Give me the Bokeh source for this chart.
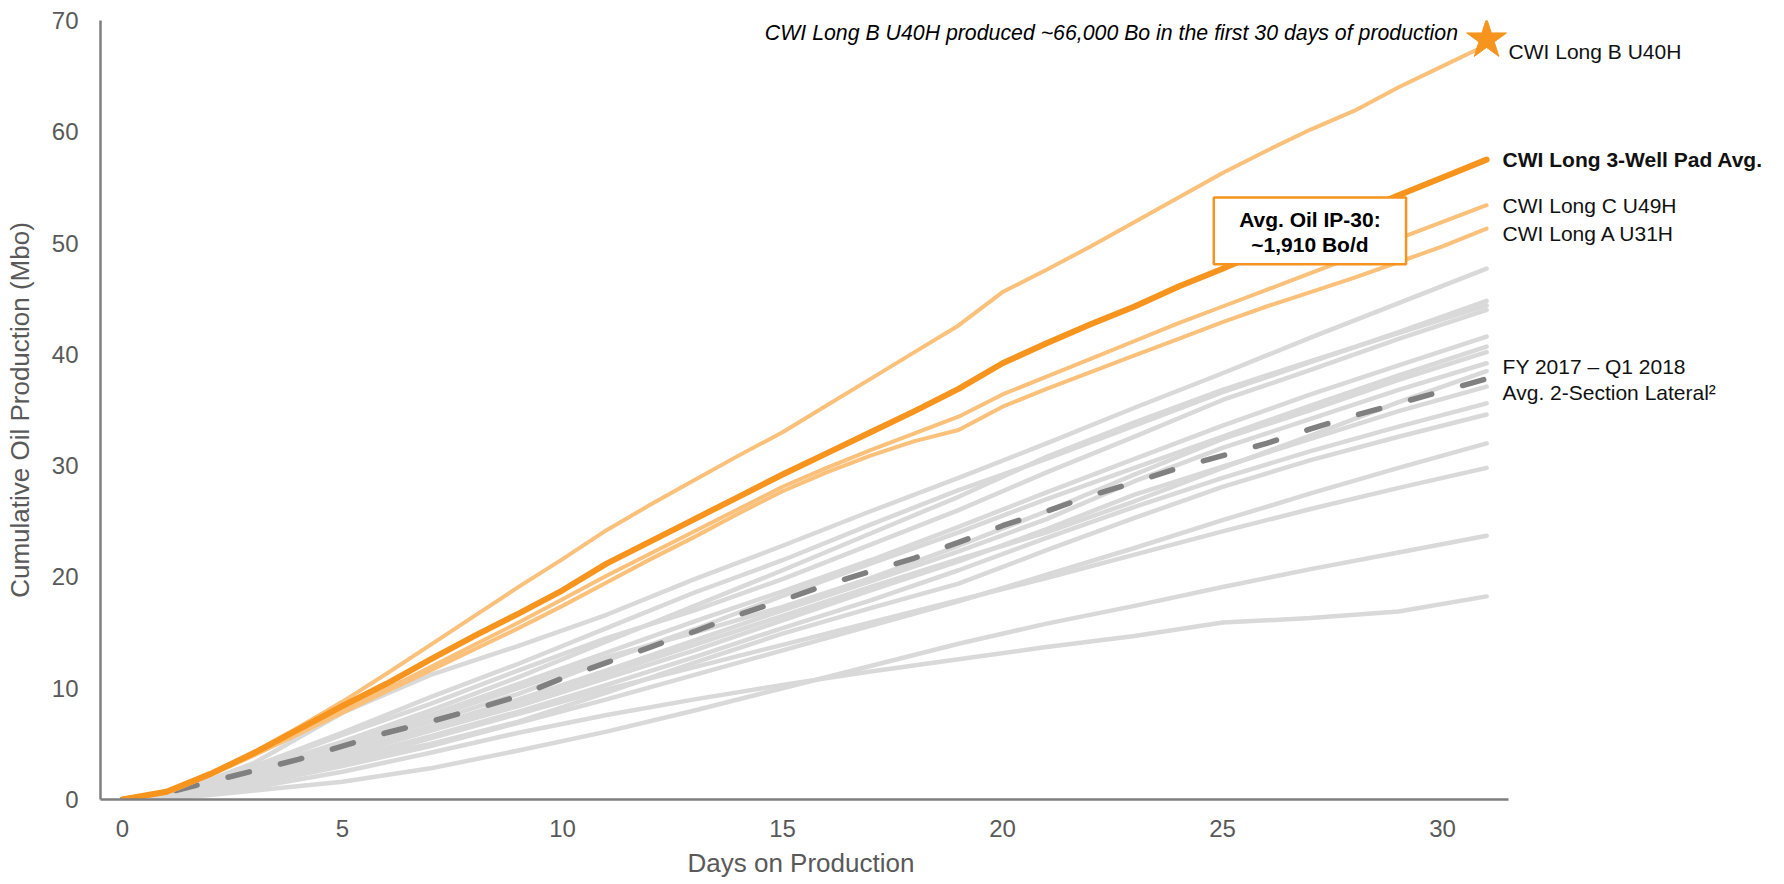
from bokeh.plotting import figure
from bokeh.models import Label, Range1d, Title
from bokeh.embed import file_html
from bokeh.resources import INLINE

# ---------------- data ----------------
days = list(range(32))

pad_avg = [0, 0.7, 2.3, 4.2, 6.3, 8.4, 10.4, 12.6, 14.7, 16.7, 18.8, 21.2, 23.2, 25.2, 27.2, 29.2,
           31.1, 33.0, 34.9, 36.9, 39.2, 41.0, 42.7, 44.3, 46.1, 47.7, 49.4, 51.0, 52.6, 54.3, 55.9, 57.5]
long_b = [0, 0.7, 2.3, 4.3, 6.5, 8.8, 11.3, 13.9, 16.5, 19.1, 21.6, 24.2, 26.5, 28.7, 30.9, 33.0,
          35.4, 37.8, 40.2, 42.6, 45.6, 47.6, 49.7, 51.9, 54.1, 56.3, 58.3, 60.2, 61.9, 64.0, 65.9, 67.8]
long_c = [0, 0.6, 2.2, 4.0, 5.9, 7.9, 9.9, 11.9, 13.9, 15.9, 18.0, 20.1, 22.1, 24.1, 26.1, 28.1,
          29.8, 31.4, 32.9, 34.4, 36.4, 38.0, 39.6, 41.2, 42.8, 44.3, 45.8, 47.3, 48.8, 50.4, 51.9, 53.4]
long_a = [0, 0.6, 2.2, 4.0, 5.9, 7.8, 9.7, 11.6, 13.5, 15.4, 17.4, 19.5, 21.6, 23.6, 25.7, 27.7,
          29.4, 30.9, 32.2, 33.2, 35.3, 36.9, 38.4, 39.9, 41.4, 42.9, 44.3, 45.6, 46.9, 48.3, 49.7, 51.3]
fy_avg = [0, 0.6, 1.6, 2.6, 3.6, 4.8, 6.0, 7.0, 8.1, 9.3, 10.9, 12.3, 13.7, 15.1, 16.6, 17.9,
          19.3, 20.5, 21.7, 23.1, 24.6, 25.9, 27.3, 28.5, 29.8, 30.9, 32.0, 33.3, 34.5, 35.6, 36.7, 37.8]

gray_days = [0, 1, 2, 3, 5, 7, 9, 11, 13, 15, 17, 19, 21, 23, 25, 27, 29, 31]
gray_wells = [
    [0, 0.4, 1.8, 3.3, 7.8, 11.2, 13.8, 16.6, 19.8, 22.8, 25.9, 28.9, 32.0, 35.2, 38.3, 41.5, 44.6, 47.7],
    [0, 0.5, 1.7, 3.0, 6.0, 9.2, 12.2, 15.4, 18.6, 21.5, 24.7, 27.8, 30.6, 33.6, 36.6, 39.3, 42.0, 44.8],
    [0, 0.3, 1.4, 2.7, 5.2, 8.0, 11.0, 14.2, 17.4, 20.6, 23.9, 27.2, 30.8, 33.9, 36.8, 39.4, 41.9, 44.4],
    [0, 0.4, 1.5, 2.9, 5.8, 8.6, 11.6, 14.5, 17.0, 19.8, 22.9, 26.0, 29.4, 32.6, 35.9, 38.6, 41.4, 44.0],
    [0, 0.3, 1.2, 2.5, 5.0, 7.6, 10.4, 13.2, 16.0, 18.7, 21.5, 24.5, 27.6, 30.6, 33.6, 36.4, 39.0, 41.6],
    [0, 0.4, 1.3, 2.4, 4.6, 7.0, 9.5, 12.5, 15.3, 18.3, 21.2, 24.0, 27.0, 29.8, 32.6, 35.4, 38.1, 40.7],
    [0, 0.3, 1.2, 2.3, 4.8, 7.4, 10.0, 12.8, 15.0, 17.3, 19.9, 22.8, 25.9, 29.2, 32.4, 35.0, 37.7, 40.2],
    [0, 0.3, 1.1, 2.1, 4.2, 6.6, 9.0, 11.6, 14.3, 17.0, 19.6, 22.3, 25.2, 28.6, 31.6, 34.2, 36.8, 39.2],
    [0, 0.2, 0.8, 1.6, 3.9, 6.2, 8.8, 11.3, 13.9, 16.5, 19.1, 21.6, 24.0, 26.8, 29.8, 32.7, 35.7, 38.5],
    [0, 0.3, 1.0, 1.9, 4.0, 6.2, 8.4, 10.9, 13.4, 16.1, 18.8, 21.4, 24.3, 27.4, 29.9, 32.4, 34.9, 37.1],
    [0, 0.2, 0.9, 1.7, 3.6, 5.7, 7.9, 10.3, 12.8, 15.4, 17.9, 20.6, 23.5, 26.3, 28.9, 31.3, 33.5, 35.6],
    [0, 0.3, 1.0, 1.8, 3.3, 5.0, 7.0, 9.6, 12.3, 14.9, 17.2, 19.4, 22.4, 25.3, 28.1, 30.5, 32.6, 34.6],
    [0, 0.2, 0.7, 1.4, 3.0, 4.8, 6.9, 9.0, 11.2, 13.4, 15.6, 17.8, 20.2, 22.6, 25.1, 27.5, 29.8, 32.0],
    [0, 0.2, 0.8, 1.5, 3.3, 5.5, 7.7, 9.9, 11.9, 13.9, 15.9, 17.9, 19.9, 22.0, 24.1, 26.1, 28.0, 29.8],
    [0, 0.1, 0.4, 0.8, 1.6, 2.8, 4.4, 6.1, 8.0, 10.0, 12.0, 14.0, 15.8, 17.4, 19.1, 20.7, 22.2, 23.7],
    [0, 0.2, 0.6, 1.1, 2.5, 4.2, 6.0, 7.6, 9.0, 10.3, 11.5, 12.6, 13.7, 14.7, 15.9, 16.3, 16.9, 18.25],
]

star_day = 31
star_value = 68.3

x_ticks = [0, 5, 10, 15, 20, 25, 30]
y_ticks = [0, 10, 20, 30, 40, 50, 60, 70]

# ---------------- style ----------------
FONT = "Liberation Sans"
DARK_ORANGE = "#F7941D"
LIGHT_ORANGE = "#FBC07A"
GRAY = "#D9D9D9"
DASH_GRAY = "#808080"
AXIS_GRAY = "#7F7F7F"
TEXT_GRAY = "#595959"

# frame runs to the right edge of the page so that the end labels are not clipped;
# the x axis line itself is bounded to the data categories (-0.5 .. 31.5)
p = figure(width=1784, height=884, x_range=Range1d(-0.5, 37.77), y_range=Range1d(0, 70),
           toolbar_location=None, output_backend="svg",
           min_border_left=100, min_border_right=0, min_border_top=20, min_border_bottom=84)
p.outline_line_color = None
p.xgrid.visible = False
p.ygrid.visible = False
p.background_fill_color = "white"
p.border_fill_color = "white"

for ax in (p.xaxis[0], p.yaxis[0]):
    ax.axis_line_color = AXIS_GRAY
    ax.axis_line_width = 2.5
    ax.major_tick_line_color = None
    ax.minor_tick_line_color = None
    ax.major_tick_out = 0
    ax.major_tick_in = 0
    ax.major_label_text_font = FONT
    ax.major_label_text_font_size = "24px"
    ax.major_label_text_color = TEXT_GRAY
    ax.axis_label_text_font = FONT
    ax.axis_label_text_font_size = "26px"
    ax.axis_label_text_color = TEXT_GRAY
    ax.axis_label_text_font_style = "normal"

p.xaxis.bounds = (-0.5, 31.5)
p.xaxis.ticker = x_ticks
p.yaxis.ticker = y_ticks
p.yaxis.axis_label = "Cumulative Oil Production (Mbo)"
p.xaxis.major_label_standoff = 20
p.yaxis.major_label_standoff = 22
p.yaxis.axis_label_standoff = 14

# x axis title, centred under the bounded axis line (not the wider frame)
x_title = Title(text="Days on Production", align="left", offset=587, standoff=13,
                text_font=FONT, text_font_size="26px", text_color=TEXT_GRAY,
                text_font_style="normal")
p.add_layout(x_title, "below")

# gray historical wells
for well in gray_wells:
    p.line(gray_days, well, line_color=GRAY, line_width=4.5, line_join="round", line_cap="round")

# dashed average
p.line(days, fy_avg, line_color=DASH_GRAY, line_width=5.5, line_dash="22 32", line_cap="round")

# light orange wells
for series in (long_a, long_c, long_b):
    p.line(days, series, line_color=LIGHT_ORANGE, line_width=4, line_join="round", line_cap="round")

# pad average
p.line(days, pad_avg, line_color=DARK_ORANGE, line_width=6, line_join="round", line_cap="round")

# star
p.scatter([star_day], [star_value], marker="star", size=42, fill_color=DARK_ORANGE,
          line_color=DARK_ORANGE)

# IP-30 box
box_left, box_right, box_bottom, box_top = 24.8, 29.17, 48.1, 54.1
p.quad(left=[box_left], right=[box_right], bottom=[box_bottom], top=[box_top],
       fill_color="white", line_color=DARK_ORANGE, line_width=2.5)
box_cx = (box_left + box_right) / 2
p.add_layout(Label(x=box_cx, y=52.1, text="Avg. Oil IP-30:", text_align="center",
                   text_baseline="middle", text_font=FONT, text_font_size="21px",
                   text_font_style="bold", text_color="black"))
p.add_layout(Label(x=box_cx, y=49.9, text="~1,910 Bo/d", text_align="center",
                   text_baseline="middle", text_font=FONT, text_font_size="21px",
                   text_font_style="bold", text_color="black"))

# top annotation
p.add_layout(Label(x=30.35, y=68.85, text="CWI Long B U40H produced ~66,000 Bo in the first 30 days of production",
                   text_align="right", text_baseline="middle", text_font=FONT,
                   text_font_size="21.3px", text_font_style="italic", text_color="black"))

# right-side labels
def end_label(text, y, xoff, bold=False):
    p.add_layout(Label(x=31, y=y, x_offset=xoff, text=text, text_align="left",
                       text_baseline="middle", text_font=FONT, text_font_size="21px",
                       text_font_style="bold" if bold else "normal", text_color="#111111"))

end_label("CWI Long B U40H", 67.2, 22)
end_label("CWI Long 3-Well Pad Avg.", pad_avg[-1], 16, bold=True)
end_label("CWI Long C U49H", long_c[-1], 16)
end_label("CWI Long A U31H", 50.9, 16)
end_label("FY 2017 \u2013 Q1 2018", 38.9, 16)
end_label("Avg. 2-Section Lateral\u00b2", 36.6, 16)

open("out.html", "w").write(file_html(p, INLINE))
